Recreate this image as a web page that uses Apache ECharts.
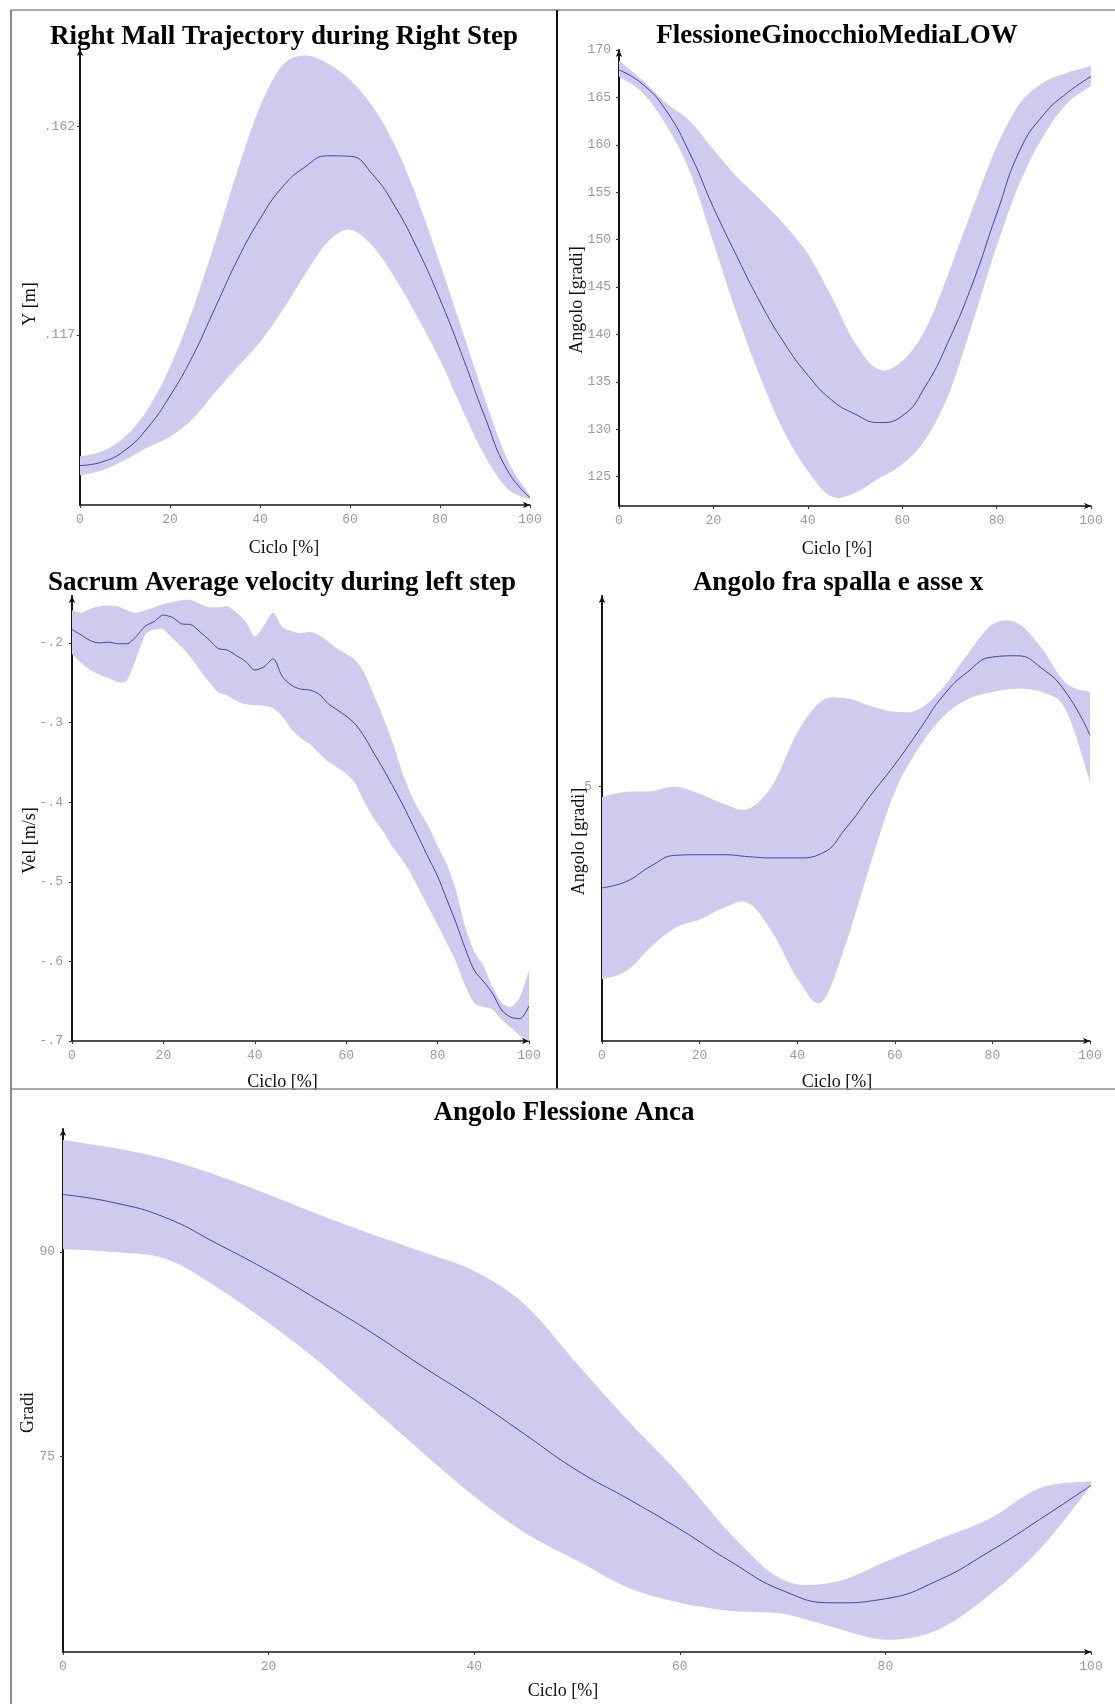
<!DOCTYPE html>
<html>
<head>
<meta charset="utf-8">
<title>Gait cycle averages</title>
<script src="https://cdn.jsdelivr.net/npm/echarts@6/dist/echarts.min.js"></script>
<style>
  html, body { margin: 0; padding: 0; background: #ffffff; }
  #chart { width: 1115px; height: 1704px; }
</style>
</head>
<body>
<div id="chart"></div>
<script>
// ---- Gait cycle axis (percent of cycle) ----
const cycle5 = [0, 5, 10, 15, 20, 25, 30, 35, 40, 45, 50, 55, 60, 65, 70, 75, 80, 85, 90, 95, 100];
const cycle2 = [0, 2, 4, 6, 8, 10, 12, 14, 16, 18, 20, 22, 24, 26, 28, 30, 32, 34, 36, 38, 40, 42, 44, 46, 48,
                50, 52, 54, 56, 58, 60, 62, 64, 66, 68, 70, 72, 74, 76, 78, 80, 82, 84, 86, 88, 90, 92, 94, 96, 98, 100];
const cycleTicks = [0, 20, 40, 60, 80, 100];

// ---- Right Mall Trajectory during Right Step (Y [m]) ----
const mallMean  = [0.0889, 0.0897, 0.0922, 0.0970, 0.1039, 0.1124, 0.1228, 0.1332, 0.1420, 0.1489, 0.1532,
                   0.1556, 0.1555, 0.1516, 0.1447, 0.1355, 0.1247, 0.1124, 0.0993, 0.0878, 0.0820];
const mallUpper = [0.0909, 0.0920, 0.0951, 0.1009, 0.1101, 0.1224, 0.1370, 0.1524, 0.1662, 0.1751, 0.1772,
                   0.1755, 0.1720, 0.1662, 0.1578, 0.1462, 0.1324, 0.1178, 0.1032, 0.0901, 0.0824];
const mallLower = [0.0868, 0.0879, 0.0901, 0.0928, 0.0951, 0.0989, 0.1047, 0.1101, 0.1155, 0.1224, 0.1301,
                   0.1370, 0.1397, 0.1362, 0.1293, 0.1209, 0.1116, 0.1009, 0.0909, 0.0839, 0.0816];
const mallTicks = [0.117, 0.162];

// ---- FlessioneGinocchioMediaLOW (Angolo [gradi]) ----
const kneeMean  = [167.9, 166.4, 163.6, 159.1, 153.4, 148.2, 143.3, 139.1, 135.7, 133.1, 131.6,
                   130.7, 131.4, 134.6, 139.5, 145.5, 152.7, 159.5, 163.2, 165.5, 167.2];
const kneeUpper = [168.9, 166.8, 164.4, 162.5, 159.5, 156.6, 154.2, 151.6, 148.5, 144.0, 139.1,
                   136.3, 137.2, 140.6, 146.7, 153.4, 159.8, 164.4, 166.6, 167.6, 168.3];
const kneeLower = [167.2, 165.5, 162.1, 157.2, 149.7, 142.1, 135.4, 129.7, 125.6, 122.9, 123.3,
                   124.8, 126.3, 129.0, 133.9, 141.4, 149.3, 156.1, 161.0, 164.4, 166.2];
const kneeTicks = [125, 130, 135, 140, 145, 150, 155, 160, 165, 170];

// ---- Sacrum Average velocity during left step (Vel [m/s]) ----
const sacrumMean  = [-0.183, -0.190, -0.197, -0.200, -0.199, -0.201, -0.201, -0.192, -0.179, -0.173, -0.165,
                     -0.168, -0.176, -0.177, -0.186, -0.196, -0.207, -0.209, -0.216, -0.223, -0.234,
                     -0.230, -0.220, -0.242, -0.253, -0.258, -0.259, -0.264, -0.276, -0.284, -0.292,
                     -0.302, -0.318, -0.338, -0.357, -0.378, -0.399, -0.422, -0.446, -0.470, -0.493,
                     -0.522, -0.551, -0.583, -0.611, -0.625, -0.640, -0.661, -0.670, -0.672, -0.656];
const sacrumUpper = [-0.159, -0.162, -0.157, -0.154, -0.153, -0.154, -0.159, -0.162, -0.159, -0.155, -0.151,
                     -0.149, -0.146, -0.146, -0.151, -0.155, -0.155, -0.154, -0.162, -0.173, -0.192,
                     -0.178, -0.162, -0.180, -0.185, -0.188, -0.186, -0.190, -0.198, -0.207, -0.214,
                     -0.222, -0.238, -0.265, -0.292, -0.322, -0.358, -0.388, -0.411, -0.430, -0.455,
                     -0.478, -0.510, -0.556, -0.588, -0.605, -0.632, -0.652, -0.657, -0.645, -0.611];
const sacrumLower = [-0.214, -0.225, -0.234, -0.240, -0.244, -0.249, -0.247, -0.220, -0.190, -0.183, -0.183,
                     -0.194, -0.205, -0.218, -0.234, -0.249, -0.262, -0.266, -0.273, -0.277, -0.278,
                     -0.279, -0.282, -0.292, -0.308, -0.319, -0.327, -0.338, -0.349, -0.356, -0.364,
                     -0.377, -0.400, -0.420, -0.436, -0.455, -0.470, -0.488, -0.510, -0.532, -0.554,
                     -0.577, -0.600, -0.630, -0.652, -0.657, -0.660, -0.673, -0.683, -0.693, -0.700];
const sacrumTicks = [-0.7, -0.6, -0.5, -0.4, -0.3, -0.2];

// ---- Angolo fra spalla e asse x (Angolo [gradi]) ----
const shoulderMean  = [3.41, 3.51, 3.75, 3.92, 3.93, 3.93, 3.90, 3.88, 3.88, 3.95, 4.35,
                       4.86, 5.35, 5.89, 6.44, 6.81, 7.04, 7.06, 6.87, 6.49, 5.81];
const shoulderUpper = [4.84, 4.92, 4.93, 5.00, 4.89, 4.73, 4.65, 5.03, 5.85, 6.35, 6.39,
                       6.27, 6.18, 6.22, 6.57, 7.09, 7.55, 7.58, 7.19, 6.63, 6.49];
const shoulderLower = [1.97, 2.10, 2.48, 2.78, 2.91, 3.10, 3.17, 2.70, 1.99, 1.61, 2.54,
                       3.78, 4.92, 5.62, 6.11, 6.38, 6.49, 6.54, 6.49, 6.22, 5.08];
const shoulderTicks = [5];

// ---- Angolo Flessione Anca (Gradi) ----
const hipMean  = [94.2, 93.6, 92.5, 90.6, 88.6, 86.4, 84.1, 81.6, 79.2, 76.6, 74.0,
                  71.9, 69.7, 67.3, 65.2, 64.3, 64.6, 65.9, 68.0, 70.4, 72.9];
const hipUpper = [98.2, 97.6, 96.8, 95.6, 94.2, 92.7, 91.3, 90.0, 88.6, 86.1, 81.8,
                  77.6, 73.7, 69.3, 66.0, 65.8, 67.3, 68.9, 70.4, 72.7, 73.2];
const hipLower = [90.2, 90.0, 89.5, 87.4, 84.8, 81.9, 78.6, 75.3, 72.1, 69.4, 67.4,
                  65.4, 64.3, 63.7, 63.5, 62.5, 61.6, 62.3, 64.8, 68.2, 72.9];
const hipTicks = [75, 90];

// ---- Styling ----
const SERIF = '"Liberation Serif", "Times New Roman", serif';
const MONO = '"Liberation Mono", "Courier New", monospace';
const BAND = '#cfcbef';
const MEAN = '#4240ac';
const AXIS = '#151515';

// ".117" / "-.2" style numbers (leading zero dropped)
function shortNum(v) {
  return String(v).replace(/^(-?)0\./, '$1.');
}

function makeGrid(left, top, width, height) {
  return { left, top, width, height, containLabel: false };
}

function makeXAxis(gridIndex, gap, shift) {
  return {
    type: 'value', gridIndex, min: 0, max: 100,
    name: 'Ciclo [%]', nameLocation: 'middle', nameGap: gap, nameMoveOverlap: false,
    nameTextStyle: { fontFamily: SERIF, fontSize: 18, color: '#111', padding: [0, shift * 2, 0, 0] },
    axisLine: { show: true, onZero: false, lineStyle: { color: AXIS, width: 1.5 },
                symbol: ['none', 'arrow'], symbolSize: [5, 7] },
    axisTick: { show: true, length: 3, lineStyle: { color: '#333' }, customValues: cycleTicks },
    axisLabel: { fontFamily: MONO, fontSize: 13, color: '#9b9b9b', margin: 8, customValues: cycleTicks },
    splitLine: { show: false }
  };
}

function makeYAxis(gridIndex, min, max, ticks, name, gap, shift, labelMargin) {
  return {
    type: 'value', gridIndex, min, max,
    name, nameLocation: 'middle', nameGap: gap, nameMoveOverlap: false,
    nameTextStyle: { fontFamily: SERIF, fontSize: 18, color: '#111', padding: [0, shift * 2, 0, 0] },
    axisLine: { show: true, onZero: false, lineStyle: { color: AXIS, width: 2 },
                symbol: ['none', 'arrow'], symbolSize: [5, 7] },
    axisTick: { show: true, length: 3, lineStyle: { color: '#333' }, customValues: ticks },
    axisLabel: { fontFamily: MONO, fontSize: 13, color: '#9b9b9b', margin: labelMargin,
                 customValues: ticks, formatter: shortNum },
    splitLine: { show: false }
  };
}

// Cubic Bezier segments through screen points (Catmull-Rom style tangents)
function curveThrough(pts, t) {
  let d = '';
  for (let i = 0; i < pts.length - 1; i++) {
    const p0 = pts[i - 1] || pts[i];
    const p1 = pts[i];
    const p2 = pts[i + 1];
    const p3 = pts[i + 2] || p2;
    const c1x = p1[0] + (p2[0] - p0[0]) * t, c1y = p1[1] + (p2[1] - p0[1]) * t;
    const c2x = p2[0] - (p3[0] - p1[0]) * t, c2y = p2[1] - (p3[1] - p1[1]) * t;
    d += ' C' + c1x.toFixed(2) + ',' + c1y.toFixed(2) + ' ' + c2x.toFixed(2) + ',' + c2y.toFixed(2) +
         ' ' + p2[0].toFixed(2) + ',' + p2[1].toFixed(2);
  }
  return d;
}

// Shaded band between the lower and upper bound curves
function bandSeries(idx, xs, lower, upper, tension) {
  const rows = xs.map((x, i) => [x, lower[i], upper[i]]);
  return {
    type: 'custom', xAxisIndex: idx, yAxisIndex: idx, silent: true, clip: true, z: 1,
    animation: false,
    data: rows,
    encode: { x: 0, y: [1, 2] },
    renderItem(params, api) {
      if (params.dataIndex !== 0) return null;
      const top = rows.map(r => api.coord([r[0], r[2]]));
      const bot = rows.map(r => api.coord([r[0], r[1]])).reverse();
      const d = 'M' + top[0][0].toFixed(2) + ',' + top[0][1].toFixed(2) + curveThrough(top, tension) +
                ' L' + bot[0][0].toFixed(2) + ',' + bot[0][1].toFixed(2) + curveThrough(bot, tension) + ' Z';
      return { type: 'path', shape: { pathData: d }, style: { fill: BAND, stroke: null } };
    }
  };
}

// Mean curve
function meanSeries(idx, xs, mean, smooth) {
  return {
    type: 'line', xAxisIndex: idx, yAxisIndex: idx, smooth, symbol: 'none',
    silent: true, animation: false, z: 3,
    data: xs.map((x, i) => [x, mean[i]]),
    lineStyle: { color: MEAN, width: 1 }
  };
}

function makeTitle(text, cx, top) {
  return { text, left: cx, top, textAlign: 'center', padding: 0,
           textStyle: { fontFamily: SERIF, fontSize: 27, fontWeight: 'bold', color: '#000' } };
}

const chart = echarts.init(document.getElementById('chart'), null, { renderer: 'canvas' });

chart.setOption({
  backgroundColor: '#ffffff',
  animation: false,
  title: [
    makeTitle('Right Mall Trajectory during Right Step', 284, 24),
    makeTitle('FlessioneGinocchioMediaLOW', 837, 23),
    makeTitle('Sacrum Average velocity during left step', 282, 570),
    makeTitle('Angolo fra spalla e asse x', 838, 570),
    makeTitle('Angolo Flessione Anca', 564, 1100)
  ],
  grid: [
    makeGrid(80, 49, 450, 456),
    makeGrid(619, 50, 472, 456),
    makeGrid(72, 596, 457, 445),
    makeGrid(602, 596, 488, 445),
    makeGrid(63, 1129, 1028, 523)
  ],
  xAxis: [
    makeXAxis(0, 34, 21),
    makeXAxis(1, 34, 18),
    makeXAxis(2, 32, 18),
    makeXAxis(3, 32, 9),
    makeXAxis(4, 30, 14)
  ],
  yAxis: [
    makeYAxis(0, 0.0804, 0.1786, mallTicks, 'Y [m]', 41, 27, 5),
    makeYAxis(1, 121.9, 170, kneeTicks, 'Angolo [gradi]', 33, 22, 8),
    makeYAxis(2, -0.7, -0.141, sacrumTicks, 'Vel [m/s]', 33, 22, 9),
    makeYAxis(3, 1, 8, shoulderTicks, 'Angolo [gradi]', 14, 23, 10),
    makeYAxis(4, 60.7, 99.0, hipTicks, 'Gradi', 26, 22, 8)
  ],
  series: [
    bandSeries(0, cycle5, mallLower, mallUpper, 1 / 6),
    meanSeries(0, cycle5, mallMean, true),
    bandSeries(1, cycle5, kneeLower, kneeUpper, 1 / 6),
    meanSeries(1, cycle5, kneeMean, true),
    bandSeries(2, cycle2, sacrumLower, sacrumUpper, 1 / 8),
    meanSeries(2, cycle2, sacrumMean, 0.3),
    bandSeries(3, cycle5, shoulderLower, shoulderUpper, 1 / 6),
    meanSeries(3, cycle5, shoulderMean, true),
    bandSeries(4, cycle5, hipLower, hipUpper, 1 / 6),
    meanSeries(4, cycle5, hipMean, true)
  ],
  graphic: [
    // page frame and panel dividers
    { type: 'line', silent: true, z: 100, shape: { x1: 11, y1: 10, x2: 11, y2: 1704 },
      style: { stroke: '#8c8c8c', lineWidth: 2 } },
    { type: 'line', silent: true, z: 100, shape: { x1: 11, y1: 10, x2: 1115, y2: 10 },
      style: { stroke: '#8c8c8c', lineWidth: 1.5 } },
    { type: 'line', silent: true, z: 100, shape: { x1: 557, y1: 10, x2: 557, y2: 1089 },
      style: { stroke: '#111111', lineWidth: 2 } },
    { type: 'line', silent: true, z: 100, shape: { x1: 11, y1: 1089, x2: 1115, y2: 1089 },
      style: { stroke: '#8c8c8c', lineWidth: 1.5 } }
  ]
});
</script>
</body>
</html>
